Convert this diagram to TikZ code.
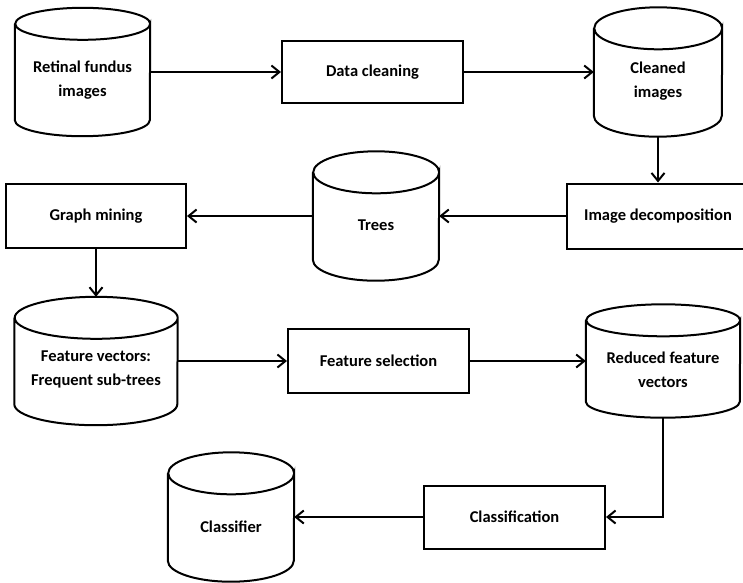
\documentclass[tikz,border=0pt]{standalone}
\usepackage{fontspec}
\setmainfont{Carlito}
\usetikzlibrary{arrows.meta}
\begin{document}
\begin{tikzpicture}[x=1pt,y=1pt,
    box/.style={shape=rectangle,draw=black,line width=2pt},
    db/.style 2 args={shape=rectangle,minimum width=#1,
      append after command={\pgfextra{\draw[line width=2pt]
        ([yshift=-#2]\tikzlastnode.north west) -- ([yshift=#2]\tikzlastnode.south west)
        arc[start angle=180,end angle=360,x radius=#1/2,y radius=#2]
        -- ([yshift=-#2]\tikzlastnode.north east)
        arc[start angle=0,end angle=-180,x radius=#1/2,y radius=#2]
        arc[start angle=180,end angle=0,x radius=#1/2,y radius=#2];}}},
    lbl/.style={align=center,font=\fontsize{16.5}{24}\selectfont\bfseries},
    flow/.style={line width=2pt,-{Straight Barb[length=8pt,width=13pt,line width=2pt]}}]
    \clip (0,0) rectangle (743,-582);

    % first row
    \node[db={135}{16},minimum height=128] (ret) at (82.5,-72) {};
    \node[lbl] (ret-t) at ([yshift=-8pt]ret.center) {Retinal fundus\\images};
    \node[box,minimum width=181,minimum height=62,lbl] (clean-step) at (372.5,-72) {Data cleaning};
    \node[db={128}{21},minimum height=129] (clean) at (658,-72) {};
    \node[lbl] (clean-t) at ([yshift=-9pt]clean.center) {Cleaned\\images};

    % second row
    \node[box,minimum width=182,minimum height=65,lbl] (decomp) at (658,-216) {Image decomposition};
    \node[db={126}{21},minimum height=129] (trees) at (376,-216) {};
    \node[lbl] (trees-t) at ([yshift=-9pt]trees.center) {Trees};
    \node[box,minimum width=180,minimum height=64,lbl] (mining) at (96,-216) {Graph mining};

    % third row
    \node[db={163}{21},minimum height=128] (fvec) at (96,-361) {};
    \node[lbl] (fvec-t) at ([yshift=-8pt]fvec.center) {Feature vectors:\\Frequent sub-trees};
    \node[box,minimum width=181,minimum height=64,lbl] (select) at (378.5,-361) {Feature selection};
    \node[db={154}{16},minimum height=113] (rfvec) at (663,-361) {};
    \node[lbl] (rfvec-t) at ([yshift=-9pt]rfvec.center) {Reduced feature\\vectors};

    % last row
    \node[box,minimum width=181,minimum height=63,lbl] (classify) at (514.5,-517) {Classification};
    \node[db={126}{21},minimum height=129] (clf) at (231,-517) {};
    \node[lbl] (clf-t) at ([yshift=-10pt]clf.center) {Classifier};

    \path [flow] (ret) edge (clean-step);
    \path [flow] (clean-step) edge (clean);
    \path [flow] (clean) edge (decomp);
    \path [flow] (decomp) edge (trees);
    \path [flow] (trees) edge (mining);
    \path [flow] (mining) edge (fvec);
    \path [flow] (fvec) edge (select);
    \path [flow] (select) edge (rfvec);
    \draw [flow] (rfvec) |- (classify);
    \path [flow] (classify) edge (clf);
\end{tikzpicture}
\end{document}
